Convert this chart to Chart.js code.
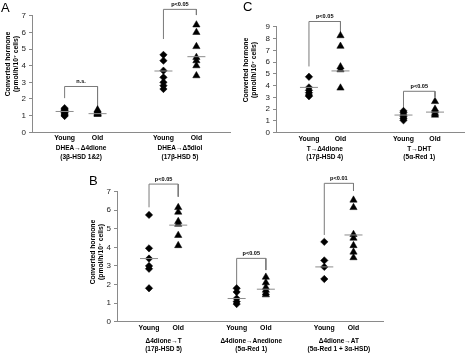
<!DOCTYPE html>
<html><head><meta charset="utf-8">
<script src="https://cdn.jsdelivr.net/npm/chart.js@4/dist/chart.umd.min.js"></script>
<style>
html,body{margin:0;padding:0;background:#fff;}
body{width:474px;height:355px;position:relative;overflow:hidden;font-family:"Liberation Sans",Arial,sans-serif;}
canvas{position:absolute;}
.lt{position:absolute;font-size:13px;line-height:13px;color:#000;}
</style></head><body>
<canvas id="cA" width="240" height="170" style="left:0;top:0"></canvas>
<canvas id="cC" width="234" height="170" style="left:240px;top:0"></canvas>
<canvas id="cB" width="340" height="185" style="left:60px;top:170px"></canvas>
<div class="lt" style="left:1px;top:1px">A</div>
<div class="lt" style="left:243px;top:0px">C</div>
<div class="lt" style="left:89px;top:174px">B</div>
<script>
const ageGroups = ['Young', 'Old'];
const axisTitle = ['Converted hormone', '(pmol/h/10\u2077 cells)'];

// Panel A
const conversionsA = ['DHEA\u2192\u03944dione', 'DHEA\u2192\u03945diol'];
const enzymesA = ['(3\u03b2-HSD 1&2)', '(17\u03b2-HSD 5)'];
const youngA = [[1.45, 1.38, 1.3, 1.25, 1.18, 1.1, 1.03, 0.98], [4.65, 4.3, 3.7, 3.3, 3.0, 2.8, 2.6]];
const oldA = [[1.35, 1.28, 1.2, 1.14, 1.1, 1.08], [6.45, 6.0, 5.15, 4.5, 4.3, 4.0, 3.4]];
const medianYoungA = [1.25, 3.68];
const medianOldA = [1.12, 4.54];
const pValuesA = ['n.s.', 'p<0.05'];
const bracketLeftA = [2.05, 5.6];
const bracketTopA = [2.75, 7.38];
const bracketRightA = [1.55, 7.04];

// Panel C
const conversionsC = ['T\u2192\u03944dione', 'T\u2192DHT'];
const enzymesC = ['(17\u03b2-HSD 4)', '(5\u03b1-Red 1)'];
const youngC = [[4.75, 3.85, 3.6, 3.4, 3.2, 3.1], [1.85, 1.7, 1.5, 1.35, 1.2, 1.05]];
const oldC = [[8.25, 7.35, 5.6, 5.35, 3.8], [2.65, 2.0, 1.85, 1.65, 1.5]];
const medianYoungC = [3.85, 1.5];
const medianOldC = [5.25, 1.75];
const pValuesC = ['p<0.05', 'p<0.05'];
const bracketLeftC = [5.63, 2.11];
const bracketTopC = [9.45, 3.52];
const bracketRightC = [8.47, 3.04];

// Panel B
const conversionsB = ['\u03944dione\u2192T', '\u03944dione\u2192Anedione', '\u03944dione\u2192AT'];
const enzymesB = ['(17\u03b2-HSD 5)', '(5\u03b1-Red 1)', '(5\u03b1-Red 1 + 3\u03b1-HSD)'];
const youngB = [[5.75, 3.95, 3.4, 3.0, 2.85, 1.8], [1.8, 1.6, 1.25, 1.08, 0.95], [4.3, 3.3, 2.95, 2.3]];
const oldB = [[6.15, 5.9, 5.4, 5.25, 4.65, 4.1], [2.4, 2.1, 1.85, 1.7, 1.55, 1.45], [6.55, 6.15, 4.7, 4.5, 4.1, 3.75, 3.45]];
const medianYoungB = [3.4, 1.25, 2.95];
const medianOldB = [5.2, 1.75, 4.67];
const pValuesB = ['p<0.05', 'p<0.05', 'p<0.01'];
const bracketLeftB = [6.16, 1.98, 4.67];
const bracketTopB = [7.41, 3.41, 7.45];
const bracketRightB = [6.73, 2.78, 7.04];

const FONT = '"Liberation Sans", Arial, sans-serif';
const AXIS_GREY = '#8a8a8a';

function makeDatasets(young, old, medY, medO, bl, bt, br) {
  const ds = [];
  young.forEach((vals, g) => {
    const xy = 3 * g, xo = 3 * g + 1;
    ds.push({data: [{x: xy, y: medY[g]}, {x: xo, y: medO[g]}], pointStyle: 'line', pointRadius: 9,
      borderColor: '#8c8c8c', backgroundColor: '#8c8c8c', borderWidth: 1});
    ds.push({data: vals.map(v => ({x: xy, y: v})), pointStyle: 'rectRot', pointRadius: 3.7,
      backgroundColor: '#000', borderColor: '#000', borderWidth: 0.5});
    ds.push({data: old[g].map(v => ({x: xo, y: v})), pointStyle: 'triangle', pointRadius: 4.2,
      backgroundColor: '#000', borderColor: '#000', borderWidth: 0.5});
    ds.push({data: [{x: xy, y: bl[g]}, {x: xy, y: bt[g]}, {x: xo, y: bt[g]}, {x: xo, y: br[g]}],
      showLine: true, pointRadius: 0, borderColor: '#7a7a7a', borderWidth: 1, clip: false, fill: false, tension: 0});
  });
  return ds;
}

const panelText = {
  id: 'panelText',
  afterDraw(chart, args, o) {
    const {ctx, chartArea, scales: {x, y}} = chart;
    ctx.save();
    ctx.fillStyle = '#000';
    ctx.textAlign = 'center';
    ctx.textBaseline = 'middle';
    o.groups.forEach((g, i) => {
      const cx = (x.getPixelForValue(3 * i) + x.getPixelForValue(3 * i + 1)) / 2;
      ctx.font = 'bold 6.5px ' + FONT;
      ctx.fillText(g, cx, chartArea.bottom + o.line1);
      ctx.fillText(o.enzymes[i], cx, chartArea.bottom + o.line2);
      ctx.font = 'bold 5.6px ' + FONT;
      ctx.fillText(o.pvals[i], cx, y.getPixelForValue(o.tops[i]) - 5);
    });
    ctx.font = 'bold 6.8px ' + FONT;
    ctx.translate(o.titleX, o.titleY);
    ctx.rotate(-Math.PI / 2);
    axisTitle.forEach((t, i) => ctx.fillText(t, 0, i * 8));
    ctx.restore();
  }
};

function buildPanel(id, p) {
  const canvas = document.getElementById(id);
  const W = canvas.width, H = canvas.height;
  const nGroups = p.young.length;
  const tickPos = [];
  for (let g = 0; g < nGroups; g++) tickPos.push(3 * g, 3 * g + 1);
  new Chart(canvas, {
    type: 'scatter',
    data: {datasets: makeDatasets(p.young, p.old, p.medY, p.medO, p.bl, p.bt, p.br)},
    plugins: [panelText],
    options: {
      responsive: false, animation: false, devicePixelRatio: 1, events: [],
      layout: {padding: {left: 0, top: p.area.top, right: W - p.area.right, bottom: 0}},
      plugins: {
        legend: {display: false}, tooltip: {enabled: false},
        panelText: {groups: p.groups, enzymes: p.enzymes, pvals: p.pvals, tops: p.bt,
          line1: p.line1, line2: p.line2, titleX: p.titleX, titleY: p.titleY}
      },
      scales: {
        x: {
          type: 'linear', min: p.xmin, max: p.xmax,
          afterBuildTicks: s => { s.ticks = tickPos.map(v => ({value: v})); },
          afterFit: s => { s.height = H - p.area.bottom; },
          grid: {display: false, drawTicks: false},
          border: {display: true, color: AXIS_GREY, width: 1},
          ticks: {autoSkip: false, maxRotation: 0, minRotation: 0, padding: 2, color: '#000',
            font: {family: FONT, size: 6.9, weight: 'bold'},
            callback: (v, i) => ageGroups[i % 2]}
        },
        y: {
          min: 0, max: p.ymax,
          afterFit: s => { s.width = p.area.left; },
          ticks: {stepSize: 1, autoSkip: false, padding: 3, color: '#222', font: {family: FONT, size: 8}},
          grid: {display: true, drawOnChartArea: false, drawTicks: true, tickLength: 3, color: AXIS_GREY},
          border: {display: true, color: AXIS_GREY, width: 1}
        }
      }
    }
  });
}

buildPanel('cA', {
  young: youngA, old: oldA, medY: medianYoungA, medO: medianOldA,
  bl: bracketLeftA, bt: bracketTopA, br: bracketRightA,
  groups: conversionsA, enzymes: enzymesA, pvals: pValuesA,
  area: {left: 32, right: 232, top: 15.7, bottom: 132.3},
  xmin: -0.99, xmax: 5.02, ymax: 7,
  line1: 16, line2: 24.5, titleX: 8, titleY: 64
});
buildPanel('cC', {
  young: youngC, old: oldC, medY: medianYoungC, medO: medianOldC,
  bl: bracketLeftC, bt: bracketTopC, br: bracketRightC,
  groups: conversionsC, enzymes: enzymesC, pvals: pValuesC,
  area: {left: 36, right: 230, top: 26.8, bottom: 132.7},
  xmin: -1.046, xmax: 4.92, ymax: 9,
  line1: 17, line2: 24.5, titleX: 6.5, titleY: 70
});
buildPanel('cB', {
  young: youngB, old: oldB, medY: medianYoungB, medO: medianOldB,
  bl: bracketLeftB, bt: bracketTopB, br: bracketRightB,
  groups: conversionsB, enzymes: enzymesB, pvals: pValuesB,
  area: {left: 57, right: 323, top: 21.7, bottom: 151.7},
  xmin: -1.096, xmax: 8.01, ymax: 7,
  line1: 19.5, line2: 27.5, titleX: 33.5, titleY: 82
});
</script>
</body></html>
